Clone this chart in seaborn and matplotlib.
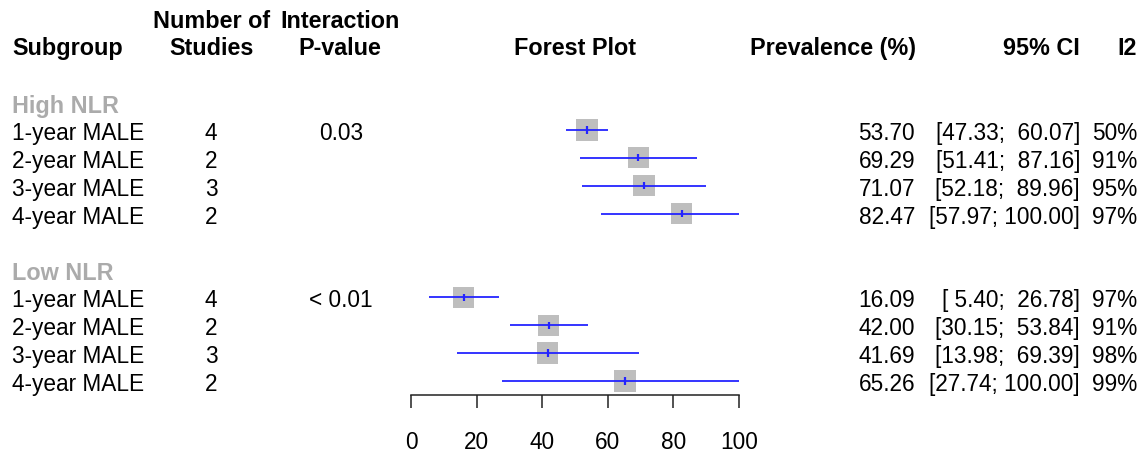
import numpy as np
import pandas as pd
import matplotlib
matplotlib.use("Agg")
import matplotlib.pyplot as plt
import matplotlib.transforms as mtransforms
import seaborn as sns

# ---------------- data ----------------
groups = ["High NLR", "Low NLR"]
subgroups = ["1-year MALE", "2-year MALE", "3-year MALE", "4-year MALE"]
p_values = ["0.03", "< 0.01"]

high_k = [4, 2, 3, 2]
high_est = [53.70, 69.29, 71.07, 82.47]
high_lo = [47.33, 51.41, 52.18, 57.97]
high_hi = [60.07, 87.16, 89.96, 100.00]
high_i2 = [50, 91, 95, 97]

low_k = [4, 2, 3, 2]
low_est = [16.09, 42.00, 41.69, 65.26]
low_lo = [5.40, 30.15, 13.98, 27.74]
low_hi = [26.78, 53.84, 69.39, 100.00]
low_i2 = [97, 91, 98, 99]

xticks = [0, 20, 40, 60, 80, 100]

# ---------------- table ----------------
rows = []
for gi, (g, k, est, lo, hi, i2) in enumerate(zip(
        groups, [high_k, low_k], [high_est, low_est], [high_lo, low_lo],
        [high_hi, low_hi], [high_i2, low_i2])):
    base = gi * 6
    for j, s in enumerate(subgroups):
        rows.append(dict(group=g, sub=s, k=k[j], est=est[j], lo=lo[j], hi=hi[j],
                         i2=i2[j], pos=base + 1 + j,
                         p=p_values[gi] if j == 0 else ""))
df = pd.DataFrame(rows)

# ---------------- figure ----------------
sns.set_theme(style="white")
plt.rcParams["font.family"] = ["Liberation Sans", "DejaVu Sans"]

W, H = 1146, 458
ROW0 = 102.0      # pixel centre of row 0
STEP = 27.9       # pixels per row
FS = 16.3
FSB = 16.8

def ypos(px):
    return (px - ROW0) / STEP

fig = plt.figure(figsize=(W / 100, H / 100), dpi=100)
fig.patch.set_facecolor("white")
axis_px = 395
ax = fig.add_axes([411 / W, (H - axis_px) / H, 328 / W, axis_px / H])
ax.set_facecolor("none")
ax.set_xlim(0, 100)
ax.set_ylim(ypos(axis_px), ypos(0))

# squares
sns.scatterplot(data=df, x="est", y="pos", marker="s", s=235, color="#BEBEBE",
                edgecolor="none", linewidth=0, ax=ax, zorder=2, clip_on=False,
                legend=False)
# CI lines
ax.hlines(df["pos"], df["lo"], df["hi"], color="#2424FF", lw=1.3, zorder=3,
          clip_on=False)
# estimate ticks
ax.vlines(df["est"], df["pos"] - 0.13, df["pos"] + 0.13, color="#2424FF",
          lw=1.6, zorder=4, clip_on=False)

# axis styling
for sp in ["top", "left", "right"]:
    ax.spines[sp].set_visible(False)
ax.spines["bottom"].set_bounds(0, 100)
ax.spines["bottom"].set_linewidth(1.1)
ax.spines["bottom"].set_color("#222222")
ax.set_yticks([])
ax.set_xticks(xticks)
ax.set_xticklabels([str(t) for t in xticks])
ax.tick_params(axis="x", bottom=True, direction="out", length=9.4, width=1.1,
               color="#222222", pad=16.3, labelsize=FS, labelcolor="black")
ax.set_xlabel("")
ax.set_ylabel("")
ax.grid(False)

trans = mtransforms.blended_transform_factory(fig.transFigure, ax.transData)

def put(xpx, ypx, s, ha="left", bold=False, color="black"):
    ax.text(xpx / W, ypos(ypx), s, transform=trans, ha=ha, va="baseline",
            fontsize=FSB if bold else FS,
            fontweight="bold" if bold else "normal", color=color,
            clip_on=False)

# headers
put(12, 55, "Subgroup", bold=True)
put(212, 28, "Number of", ha="center", bold=True)
put(212, 55, "Studies", ha="center", bold=True)
put(340, 28, "Interaction", ha="center", bold=True)
put(340, 55, "P-value", ha="center", bold=True)
put(575, 55, "Forest Plot", ha="center", bold=True)
put(916, 55, "Prevalence (%)", ha="right", bold=True)
put(1080, 55, "95% CI", ha="right", bold=True)
put(1137, 55, "I2", ha="right", bold=True)

# group labels
for gi, g in enumerate(groups):
    put(12, ROW0 + gi * 6 * STEP + 11, g, bold=True, color="#ABABAB")

# rows
for _, r in df.iterrows():
    yb = ROW0 + r["pos"] * STEP + 10
    put(12, yb, r["sub"])
    put(211, yb, str(r["k"]), ha="center")
    if r["p"]:
        put(341, yb, r["p"], ha="center")
    put(915, yb, f"{r['est']:.2f}", ha="right")
    put(1080, yb, f"[{r['lo']:5.2f}; {r['hi']:6.2f}]", ha="right")
    put(1137, yb, f"{r['i2']}%", ha="right")

fig.savefig("out.png", dpi=100, facecolor="white")
